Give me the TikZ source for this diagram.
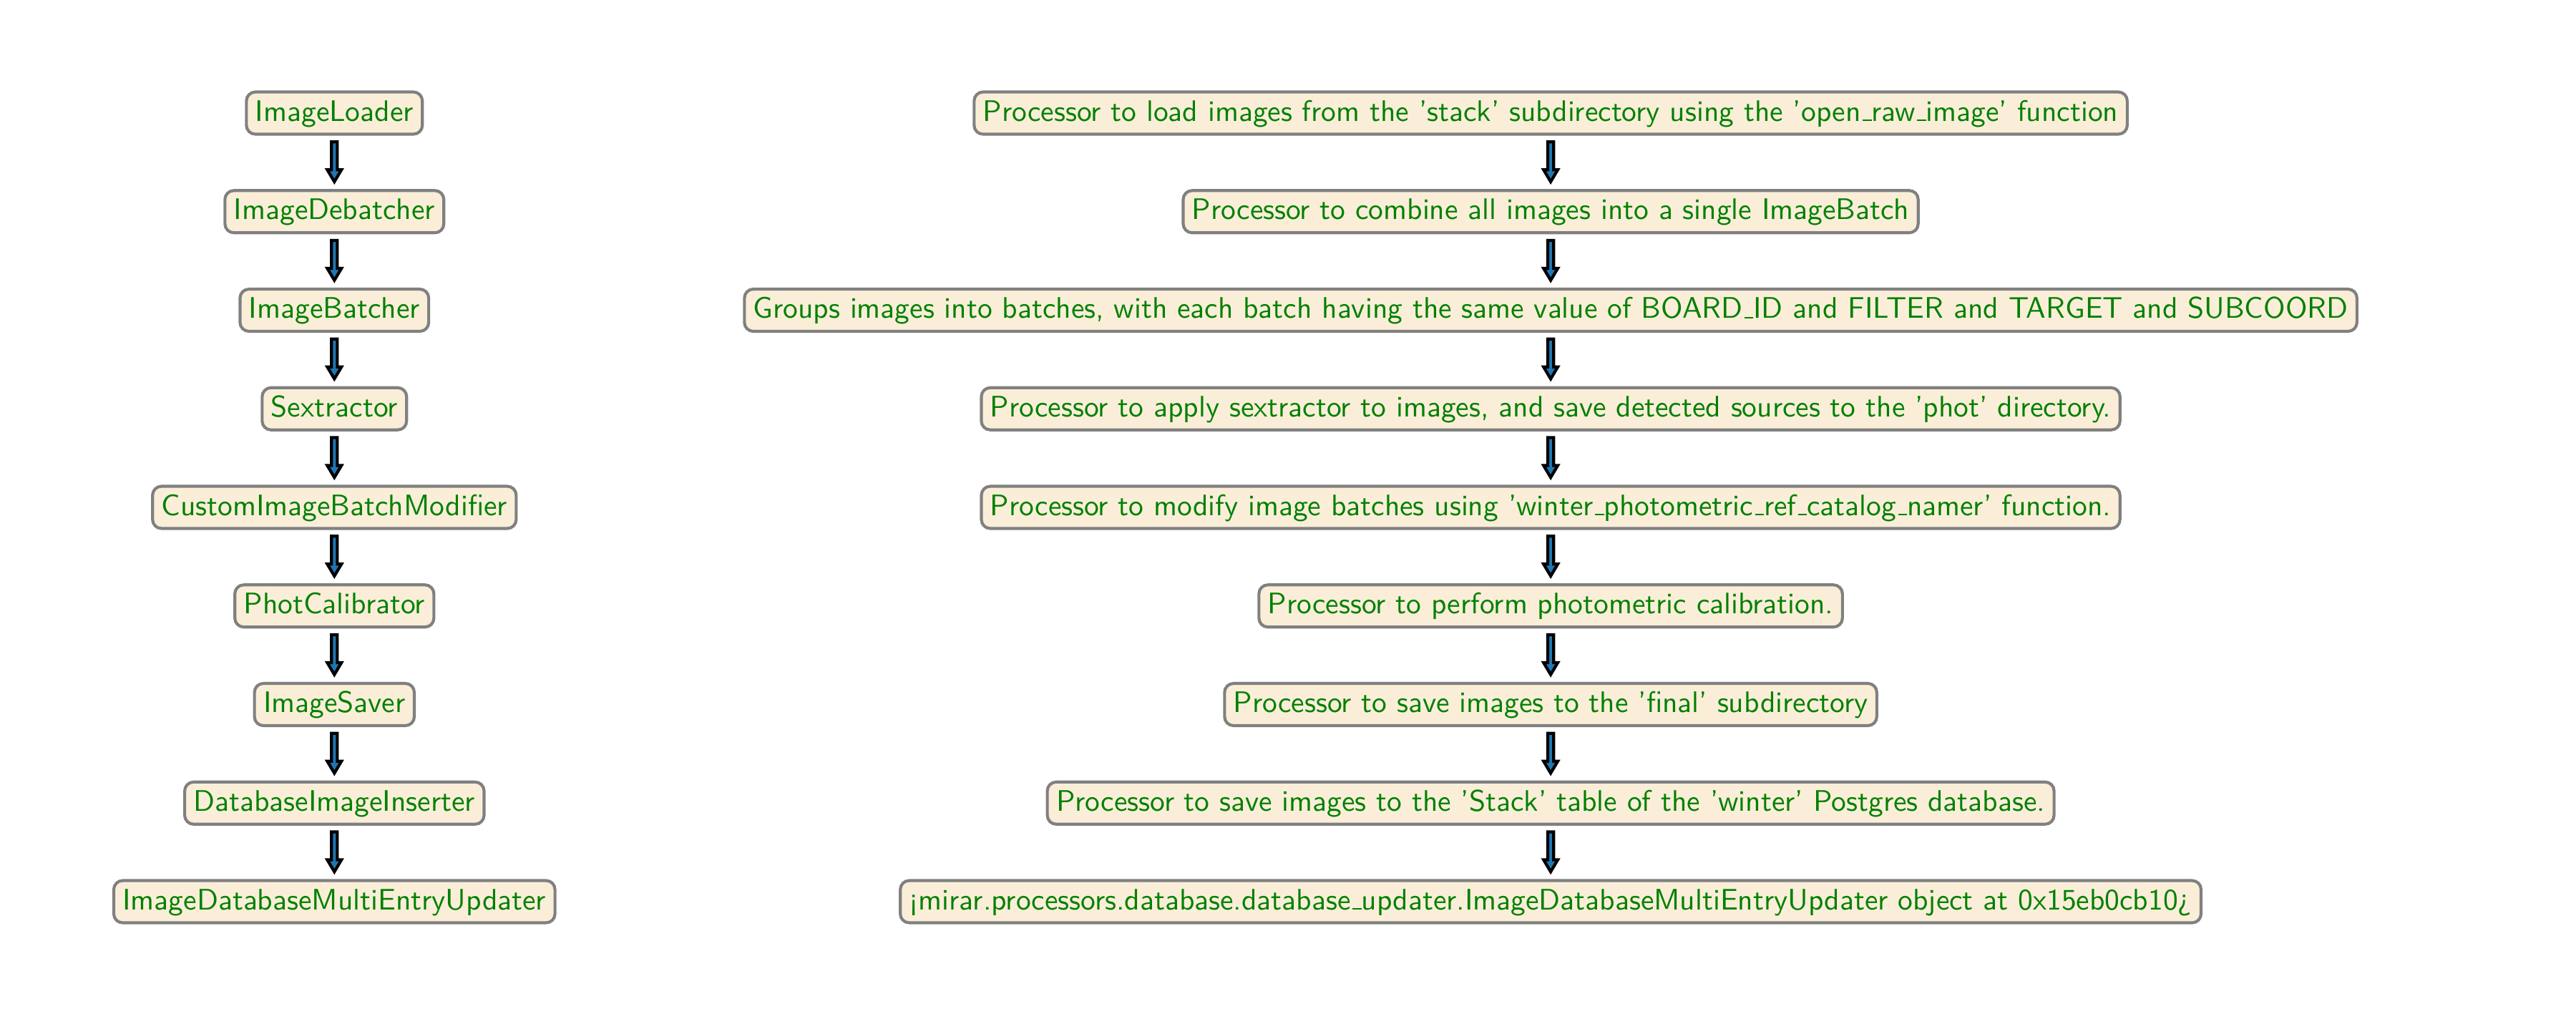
\documentclass[tikz,border=0pt]{standalone}
\usetikzlibrary{calc}
\definecolor{txtgreen}{HTML}{008000}
\definecolor{boxfill}{HTML}{FAEED9}
\definecolor{edgegray}{HTML}{808080}
\definecolor{arrowblue}{HTML}{1F77B4}
\newcommand\uscore{\leavevmode\kern.06em\vbox{\hrule width.3em height.45pt}}
\newcommand\fatarrow[2]{%
  \draw[fatarr] let \p1=(#1.south), \p2=(#2.north) in
    (\x1-0.98bp,\y1-2.1bp) -- (\x1+0.98bp,\y1-2.1bp) -- (\x1+0.98bp,\y2+6.47bp)
    -- (\x1+2.38bp,\y2+6.47bp) -- (\x1,\y2+2.47bp) -- (\x1-2.38bp,\y2+6.47bp)
    -- (\x1-0.98bp,\y2+6.47bp) -- cycle;}
\begin{document}
\begin{tikzpicture}[x=1bp,y=-1bp,
  proc/.style={draw=edgegray, fill=boxfill, line width=1pt, rounded corners=3pt,
    text=txtgreen, font=\sffamily, inner xsep=3pt, inner ysep=3pt,
    text height=6.8pt, text depth=1.4pt},
  fatarr/.style={draw=black, fill=arrowblue, line width=1bp, line join=miter}]
\useasboundingbox (0,0) rectangle (864,338.16);
% left column
\node[proc] (L1) at (112.15,37.92)  {ImageLoader};
\node[proc] (L2) at (112.15,70.98)  {ImageDebatcher};
\node[proc] (L3) at (112.15,104.04) {ImageBatcher};
\node[proc] (L4) at (112.15,137.10) {Sextractor};
\node[proc] (L5) at (112.15,170.16) {CustomImageBatchModifier};
\node[proc] (L6) at (112.15,203.22) {PhotCalibrator};
\node[proc] (L7) at (112.15,236.28) {ImageSaver};
\node[proc] (L8) at (112.15,269.34) {DatabaseImageInserter};
\node[proc] (L9) at (112.15,302.40) {ImageDatabaseMultiEntryUpdater};
% right column
\node[proc] (R1) at (520.1,37.92)  {Processor to load images from the 'stack' subdirectory using the 'open\uscore raw\uscore image' function};
\node[proc] (R2) at (520.1,70.98)  {Processor to combine all images into a single ImageBatch};
\node[proc] (R3) at (520.1,104.04) {Groups images into batches, with each batch having the same value of BOARD\uscore ID and FILTER and TARGET and SUBCOORD};
\node[proc] (R4) at (520.1,137.10) {Processor to apply sextractor to images, and save detected sources to the 'phot' directory.};
\node[proc] (R5) at (520.1,170.16) {Processor to modify image batches using 'winter\uscore photometric\uscore ref\uscore catalog\uscore namer' function.};
\node[proc] (R6) at (520.1,203.22) {Processor to perform photometric calibration.};
\node[proc] (R7) at (520.1,236.28) {Processor to save images to the 'final' subdirectory};
\node[proc] (R8) at (520.1,269.34) {Processor to save images to the 'Stack' table of the 'winter' Postgres database.};
\node[proc] (R9) at (520.1,302.40) {¡mirar.processors.database.database\uscore updater.ImageDatabaseMultiEntryUpdater object at 0x15eb0cb10¿};
% arrows
\foreach \a/\b in {L1/L2,L2/L3,L3/L4,L4/L5,L5/L6,L6/L7,L7/L8,L8/L9,
                   R1/R2,R2/R3,R3/R4,R4/R5,R5/R6,R6/R7,R7/R8,R8/R9}
  {\fatarrow{\a}{\b}}
\end{tikzpicture}
\end{document}
